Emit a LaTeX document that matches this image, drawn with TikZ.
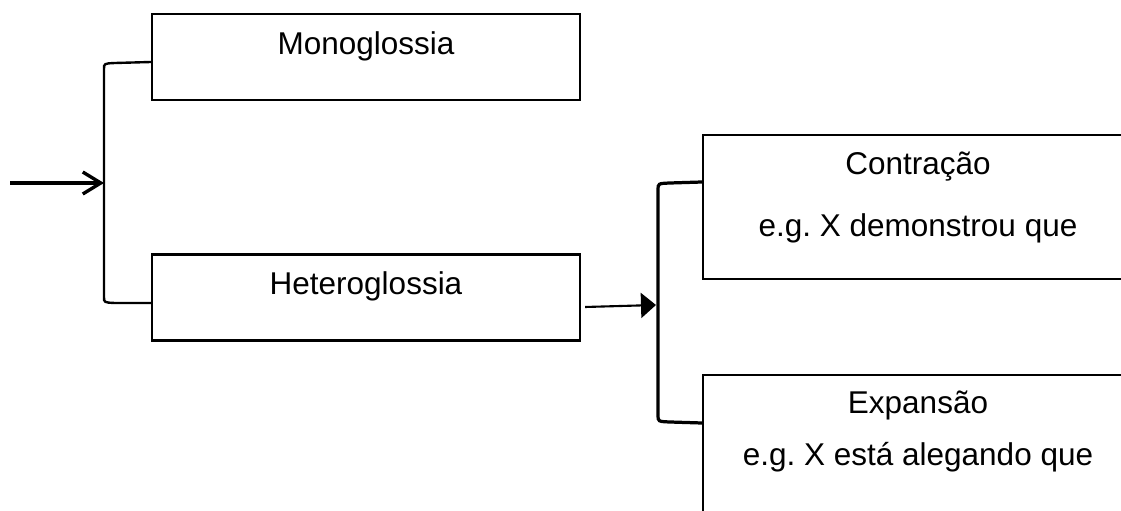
\documentclass[tikz,border=0pt]{standalone}
\usepackage{fontspec}
\setmainfont{Liberation Sans}
\usetikzlibrary{arrows.meta,calc}
\frenchspacing

\tikzset{
  every node/.style={font=\fontsize{22.4}{27}\selectfont},
  glossbox/.style={draw,line width=1.5pt,inner sep=0pt,minimum width=10.7cm,minimum height=2.15cm},
  engbox/.style={draw,line width=1.5pt,inner sep=0pt,minimum width=10.75cm,minimum height=3.6cm},
  boxtext/.style={anchor=base,inner sep=0pt},
  bracket/.style={line width=1.7pt},
}

\begin{document}
\begin{tikzpicture}[x=0.025cm,y=-0.025cm]
    \useasboundingbox (0,0) rectangle (1121,511);
    \clip (0,0) rectangle (1121,511);
    % boxes
    \node[glossbox] (mono) at (366,57) {};
    \node[glossbox] (hetero) at (366,297.5) {};
    \node[engbox] (contr) at (918,207) {};
    \node[engbox] (expan) at (918,447) {};
    \node[boxtext] (mono-t) at (366,55) {Monoglossia};
    \node[boxtext] (hetero-t) at (366,295) {Heteroglossia};
    \node[boxtext] (contr-t) at (918,175) {Contração};
    \node[boxtext] (contr-e) at (918,237) {e.g. X demonstrou que};
    \node[boxtext] (expan-t) at (918,414) {Expansão};
    \node[boxtext] (expan-e) at (918,466) {e.g. X está alegando que};
    % brackets
    \coordinate (in) at (10,183);
    \coordinate (lb) at (104,183);
    \coordinate (rb) at (656,305);
    \draw[bracket] ($(mono.west)+(0,5)$) -- (115,63) .. controls (104,63.5) .. (104,69)
      -- (104,297) .. controls (104,302.5) .. (115,303) -- ($(hetero.west)+(0,5.5)$);
    \draw[bracket,line width=2.3pt] ($(contr.west)+(0,-25)$) -- (670,183) .. controls (658,183.5) .. (658,190)
      -- (658,415) .. controls (658,421.5) .. (670,422) -- ($(expan.west)+(0,-24)$);
    % arrows
    \draw[line width=2.4pt,-{Straight Barb[length=0.45cm,width=0.55cm]}] (in) -- (lb);
    \draw[line width=1.5pt,-{Triangle[length=0.375cm,width=0.625cm]}] ($(hetero.east)+(4,9.5)$) -- (rb);
\end{tikzpicture}
\end{document}
